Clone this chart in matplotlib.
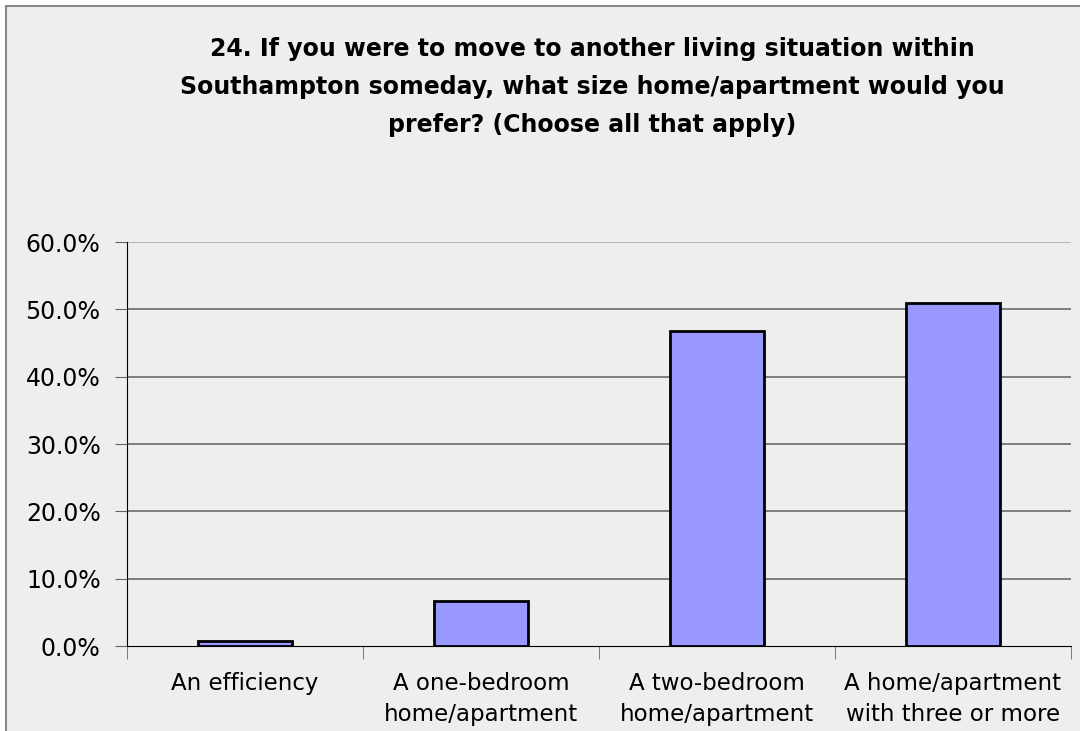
import numpy as np
import matplotlib.pyplot as plt
from matplotlib.patches import Rectangle

categories = ["An efficiency", "A one-bedroom\nhome/apartment",
              "A two-bedroom\nhome/apartment", "A home/apartment\nwith three or more"]
values = [0.7, 6.7, 46.8, 51.0]
yticks = [0, 10, 20, 30, 40, 50, 60]
title = ("24. If you were to move to another living situation within\n"
         "Southampton someday, what size home/apartment would you\n"
         "prefer? (Choose all that apply)")

bg = "#eeeeee"
fig = plt.figure(figsize=(10.8, 7.31), dpi=100, facecolor="white")
# outer chart frame (cropped at right and bottom)
fig.patches.append(Rectangle((6/1080, -0.1), 1.2, 1 - 6/731 + 0.1, transform=fig.transFigure,
                             facecolor=bg, edgecolor="#888888", linewidth=1.5, zorder=-1))

ax = fig.add_axes([127/1080, 1 - 646/731, (1071-127)/1080, (646-242)/731])
ax.set_facecolor(bg)

x = np.arange(len(categories))
ax.bar(x, values, width=0.40, color="#9999ff", edgecolor="black", linewidth=2, zorder=3)

ax.set_xlim(-0.5, len(categories) - 0.5)
ax.set_ylim(0, 60)
ax.set_yticks(yticks)
ax.set_yticklabels([f"{v:.1f}%" for v in yticks], fontsize=17)
for v in yticks[1:]:
    ax.axhline(v, color="#aaaaaa" if v == 60 else "#606060", linewidth=1.1, zorder=1)

ax.set_xticks(x)
ax.set_xticklabels(categories, fontsize=16.5, linespacing=1.4)
ax.set_xticks(np.arange(len(categories) + 1) - 0.5, minor=True)
ax.tick_params(axis="x", which="major", length=0, pad=19)
ax.tick_params(axis="x", which="minor", length=9, color="#666666")
ax.tick_params(axis="y", length=9, color="#666666", pad=10)

for s in ["top", "right"]:
    ax.spines[s].set_visible(False)
ax.spines["left"].set_color("black")
ax.spines["bottom"].set_color("black")

fig.text(592/1080, 1 - 87/731, title, ha="center", va="center", fontsize=17,
         fontweight="bold", linespacing=1.72)

fig.savefig("out.png", dpi=100, facecolor="white")
